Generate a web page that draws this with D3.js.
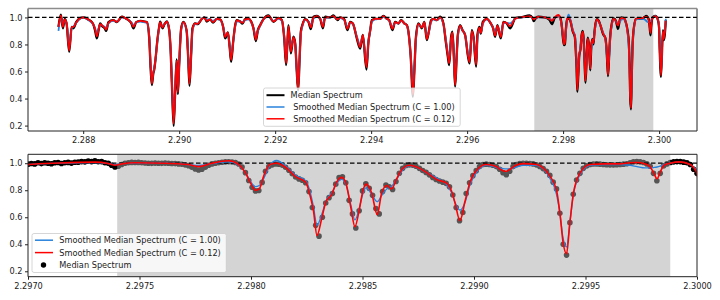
<!DOCTYPE html>
<html>
<head>
<meta charset="utf-8">
<script src="https://cdn.jsdelivr.net/npm/d3@7"></script>
<style>
  body { margin: 0; background: #fff; }
</style>
</head>
<body>
<script>
// ---- data ----
// full spectrum (top panel), wavelength in micron
const specWave = [
  2.287485,2.287535,2.287577,2.287615,2.287656,2.287708,2.287760,2.287798,2.287854,2.287937,
  2.288006,2.288104,2.288202,2.288250,2.288285,2.288323,2.288354,2.288396,2.288448,2.288479,
  2.288527,2.288625,2.288702,2.288806,2.288875,2.288944,2.289000,2.289048,2.289104,2.289188,
  2.289256,2.289327,2.289375,2.289406,2.289431,2.289458,2.289483,2.289510,2.289542,2.289583,
  2.289604,2.289652,2.289694,2.289744,2.289792,2.289823,2.289854,2.289885,2.289917,2.289948,
  2.289973,2.290000,2.290042,2.290090,2.290156,2.290188,2.290215,2.290246,2.290277,2.290333,
  2.290385,2.290473,2.290527,2.290573,2.290646,2.290708,2.290785,2.290854,2.290917,2.290958,
  2.291015,2.291052,2.291083,2.291125,2.291167,2.291202,2.291271,2.291319,2.291375,2.291444,
  2.291500,2.291548,2.291598,2.291640,2.291688,2.291756,2.291860,2.291965,2.292069,2.292140,
  2.292188,2.292229,2.292254,2.292277,2.292327,2.292381,2.292417,2.292448,2.292479,2.292510,
  2.292535,2.292573,2.292625,2.292694,2.292744,2.292798,2.292869,2.292938,2.292994,2.293042,
  2.293146,2.293215,2.293298,2.293354,2.293438,2.293506,2.293563,2.293619,2.293702,2.293771,
  2.293827,2.293902,2.293944,2.293979,2.294015,2.294083,2.294188,2.294256,2.294327,2.294375,
  2.294444,2.294500,2.294569,2.294625,2.294694,2.294744,2.294777,2.294823,2.294871,2.294906,
  2.294931,2.294985,2.295056,2.295110,2.295160,2.295194,2.295250,2.295298,2.295369,2.295438,
  2.295506,2.295556,2.295598,2.295625,2.295667,2.295694,2.295725,2.295750,2.295781,2.295806,
  2.295854,2.295902,2.295958,2.296015,2.296052,2.296098,2.296135,2.296188,2.296215,2.296256,
  2.296285,2.296327,2.296410,2.296494,2.296542,2.296583,2.296631,2.296702,2.296756,2.296827,
  2.296896,2.296965,2.297000,2.297143,2.297300,2.297359,2.297390,2.297422,2.297480,2.297614,
  2.297717,2.297765,2.297825,2.297900,2.297945,2.297975,2.297996,2.298020,2.298037,2.298058,
  2.298085,2.298115,2.298155,2.298200,2.298245,2.298268,2.298280,2.298296,2.298317,2.298336,
  2.298362,2.298384,2.298407,2.298426,2.298448,2.298466,2.298486,2.298501,2.298516,2.298541,
  2.298566,2.298586,2.298609,2.298631,2.298653,2.298680,2.298709,2.298743,2.298788,2.298833,
  2.298878,2.298900,2.298915,2.298937,2.298960,2.298982,2.299019,2.299054,2.299099,2.299130,
  2.299145,2.299161,2.299188,2.299220,2.299280,2.299309,2.299340,2.299370,2.299386,2.299399,
  2.299415,2.299430,2.299445,2.299475,2.299520,2.299587,2.299655,2.299700,2.299731,2.299767,
  2.299789,2.299805,2.299821,2.299834,2.299852,2.299879,2.299924,2.299969,2.300000,2.300010,
  2.300040,2.300080,2.300100,2.300140
];
const specMedian = [
  0.93,1.02,0.92,0.99,0.95,0.746,0.93,0.92,0.965,0.995,
  1.0,0.985,0.955,0.90,0.845,0.91,0.955,0.935,0.92,0.90,
  0.965,0.98,0.965,1.005,0.995,0.98,0.96,0.92,0.965,0.975,
  0.97,0.965,0.85,0.62,0.50,0.58,0.62,0.70,0.82,0.93,
  0.968,0.92,0.95,0.97,0.906,0.75,0.45,0.198,0.45,0.69,
  0.434,0.65,0.92,0.967,0.90,0.70,0.495,0.70,0.92,0.955,
  0.95,0.99,1.0,0.97,0.985,0.962,0.99,0.985,0.93,0.845,
  0.89,0.78,0.672,0.82,0.943,0.98,0.97,0.955,0.987,0.99,
  0.97,0.92,0.825,0.906,0.943,0.987,1.015,0.968,0.997,0.98,
  0.85,0.648,0.80,0.943,0.734,0.857,0.81,0.62,0.46,0.70,
  0.895,0.95,0.987,0.967,0.913,1.005,1.012,0.99,0.92,1.005,
  1.0,1.015,0.98,1.0,0.987,0.906,0.967,0.955,0.845,0.77,
  0.87,0.615,0.82,0.90,0.98,0.99,0.99,1.012,0.99,0.98,
  0.906,0.967,0.955,0.98,0.955,0.943,0.894,0.72,0.414,0.65,
  0.845,0.955,0.92,0.967,0.832,0.88,0.98,0.99,0.98,1.005,
  0.955,0.82,0.71,0.648,0.857,0.894,0.70,0.488,0.70,0.87,
  0.943,0.906,0.87,0.72,0.66,0.906,0.85,0.636,0.87,0.93,
  0.88,0.967,0.99,0.955,0.92,0.857,0.943,0.845,0.967,0.955,
  0.92,0.967,0.995,1.003,1.015,0.998,0.972,0.99,1.005,1.0,
  0.982,0.95,0.995,1.011,0.994,0.93,0.85,0.795,0.80,0.913,
  0.985,0.995,0.97,0.898,0.855,0.727,0.64,0.45,0.58,0.715,
  0.765,0.863,0.90,0.85,0.665,0.517,0.653,0.80,0.85,0.782,
  0.609,0.777,0.84,0.80,0.89,0.963,0.988,0.975,0.93,0.876,
  0.85,0.79,0.703,0.566,0.727,0.863,0.963,0.993,0.975,0.93,
  0.915,0.94,0.99,1.0,0.988,0.96,0.91,0.81,0.63,0.40,
  0.32,0.56,0.77,0.925,0.99,0.99,0.991,1.004,1.012,1.0,
  0.978,0.925,0.868,0.925,0.985,1.005,1.012,0.99,0.925,0.80,
  0.56,0.906,0.832,0.98
];
// smoothed, C = 0.12 (red)
const specSmoothC012 = [
  0.93,1.015,0.93,0.985,0.955,0.755,0.93,0.93,0.962,0.995,
  1.0,0.985,0.955,0.91,0.86,0.915,0.95,0.94,0.925,0.91,
  0.96,0.98,0.968,1.005,0.995,0.98,0.96,0.93,0.965,0.975,
  0.97,0.965,0.86,0.63,0.51,0.585,0.625,0.70,0.82,0.93,
  0.965,0.925,0.95,0.968,0.91,0.75,0.46,0.215,0.46,0.68,
  0.445,0.65,0.92,0.965,0.90,0.70,0.51,0.70,0.915,0.955,
  0.952,0.99,1.0,0.975,0.985,0.965,0.99,0.985,0.93,0.855,
  0.89,0.785,0.685,0.82,0.94,0.978,0.97,0.96,0.985,0.99,
  0.97,0.92,0.835,0.905,0.942,0.985,1.012,0.97,0.995,0.98,
  0.86,0.66,0.80,0.935,0.745,0.855,0.81,0.62,0.47,0.70,
  0.89,0.95,0.985,0.967,0.925,1.0,1.01,0.99,0.93,1.0,
  1.0,1.01,0.985,1.0,0.985,0.915,0.965,0.955,0.85,0.78,
  0.87,0.63,0.82,0.90,0.975,0.99,0.99,1.01,0.99,0.98,
  0.915,0.965,0.955,0.978,0.955,0.943,0.894,0.72,0.43,0.65,
  0.84,0.953,0.925,0.965,0.84,0.88,0.975,0.99,0.98,1.0,
  0.955,0.825,0.72,0.66,0.85,0.89,0.70,0.50,0.70,0.865,
  0.94,0.906,0.87,0.725,0.67,0.90,0.85,0.65,0.86,0.925,
  0.885,0.96,0.99,0.955,0.92,0.865,0.94,0.855,0.965,0.958,
  0.935,0.97,0.99,1.002,1.008,0.998,0.985,0.995,1.003,1.0,
  0.99,0.975,1.0,1.018,0.99,0.93,0.86,0.80,0.81,0.91,
  0.99,1.0,0.97,0.90,0.86,0.74,0.65,0.465,0.59,0.715,
  0.77,0.86,0.895,0.85,0.67,0.53,0.66,0.79,0.845,0.78,
  0.62,0.78,0.835,0.81,0.885,0.96,0.985,0.972,0.93,0.88,
  0.85,0.79,0.705,0.575,0.72,0.86,0.96,0.99,0.975,0.945,
  0.94,0.955,0.985,0.997,0.99,0.965,0.905,0.80,0.62,0.42,
  0.33,0.56,0.77,0.925,0.99,0.995,0.995,1.003,1.005,0.995,
  0.975,0.93,0.885,0.93,0.985,1.0,1.01,0.99,0.925,0.80,
  0.57,0.90,0.84,0.975
];
// smoothed, C = 1.00 (blue)
const specSmoothC1 = [
  0.90,1.00,0.95,0.98,0.955,0.78,0.92,0.935,0.96,0.99,
  1.0,0.98,0.95,0.92,0.88,0.92,0.945,0.94,0.93,0.925,
  0.955,0.975,0.97,1.0,0.995,0.98,0.965,0.945,0.962,0.97,
  0.965,0.96,0.87,0.65,0.54,0.59,0.63,0.70,0.81,0.92,
  0.955,0.935,0.95,0.965,0.915,0.76,0.48,0.26,0.47,0.66,
  0.48,0.66,0.91,0.96,0.90,0.72,0.55,0.71,0.90,0.95,
  0.955,0.99,1.0,0.985,0.985,0.975,0.99,0.98,0.93,0.87,
  0.88,0.79,0.71,0.82,0.93,0.97,0.97,0.965,0.98,0.985,
  0.965,0.92,0.86,0.90,0.94,0.985,1.005,0.975,0.99,0.975,
  0.87,0.69,0.80,0.90,0.77,0.84,0.80,0.63,0.50,0.70,
  0.87,0.94,0.98,0.97,0.945,0.99,1.005,0.99,0.95,0.995,
  1.0,1.005,0.99,0.995,0.98,0.93,0.96,0.95,0.86,0.80,
  0.86,0.66,0.82,0.90,0.965,0.985,0.99,1.005,0.99,0.975,
  0.93,0.96,0.955,0.975,0.955,0.94,0.89,0.73,0.47,0.65,
  0.82,0.945,0.93,0.955,0.86,0.88,0.965,0.985,0.98,0.995,
  0.95,0.84,0.74,0.69,0.83,0.87,0.71,0.54,0.70,0.85,
  0.93,0.905,0.87,0.74,0.69,0.88,0.84,0.68,0.84,0.91,
  0.89,0.95,0.985,0.955,0.925,0.88,0.93,0.875,0.955,0.96,
  0.955,0.975,0.99,1.0,1.005,0.998,0.99,0.997,1.0,1.0,
  0.99,0.983,0.997,1.01,0.985,0.93,0.87,0.826,0.835,0.89,
  0.985,1.02,0.98,0.91,0.87,0.77,0.68,0.54,0.62,0.72,
  0.78,0.85,0.88,0.84,0.69,0.58,0.67,0.77,0.82,0.77,
  0.715,0.76,0.81,0.83,0.88,0.95,0.98,0.97,0.93,0.89,
  0.84,0.78,0.71,0.653,0.71,0.84,0.95,0.985,0.97,0.96,
  0.958,0.96,0.97,0.985,0.985,0.96,0.89,0.77,0.62,0.45,
  0.38,0.56,0.76,0.915,0.985,0.99,0.99,0.985,0.975,0.965,
  0.965,0.968,0.972,0.978,0.99,1.0,1.01,0.99,0.945,0.82,
  0.60,0.89,0.86,0.99
];

// zoomed median spectrum pixels (bottom panel), sampled every zoomStep from zoomStart
const zoomStart = 2.2970;
const zoomStep = 0.000015;
const zoomFlux = [
  0.993,0.998,0.995,1.004,0.997,1.003,1.000,0.996,1.003,1.005,
  0.998,1.004,1.006,1.001,1.007,1.008,1.012,1.010,1.016,1.012,
  1.017,1.011,1.012,1.004,0.999,0.985,0.972,0.978,0.990,1.000,
  1.004,1.006,1.005,1.006,1.004,1.002,1.000,0.999,1.001,1.000,
  0.999,1.001,1.000,0.998,0.997,0.995,0.992,0.988,0.982,0.970,
  0.957,0.950,0.956,0.970,0.985,0.995,1.000,1.004,1.007,1.010,
  1.011,1.009,1.005,0.994,0.972,0.930,0.872,0.822,0.795,0.798,
  0.858,0.940,0.975,0.988,0.994,0.993,0.986,0.970,0.948,0.922,
  0.898,0.884,0.874,0.855,0.790,0.672,0.540,0.460,0.600,0.705,
  0.745,0.775,0.845,0.893,0.900,0.855,0.725,0.625,0.520,0.648,
  0.795,0.848,0.815,0.762,0.665,0.625,0.790,0.838,0.826,0.805,
  0.865,0.926,0.962,0.984,0.988,0.986,0.977,0.962,0.946,0.932,
  0.914,0.895,0.879,0.868,0.860,0.851,0.825,0.765,0.672,0.575,
  0.635,0.775,0.855,0.908,0.945,0.975,0.990,0.993,0.990,0.985,
  0.975,0.955,0.930,0.915,0.940,0.975,0.990,0.997,1.000,0.999,
  0.997,0.995,0.988,0.976,0.960,0.940,0.910,0.860,0.810,0.630,
  0.400,0.320,0.560,0.770,0.875,0.925,0.962,0.980,0.990,0.994,
  0.995,0.993,0.991,0.989,0.988,0.987,0.989,0.991,0.993,0.996,
  1.004,1.010,1.012,1.010,1.005,0.995,0.978,0.925,0.870,0.925,
  0.980,0.995,1.005,1.010,1.012,1.012,1.008,1.004,0.990,0.955,
  0.925
];

// highlighted wavelength window
const spanRange = [2.29740, 2.29988];

const topTicks = [2.288, 2.290, 2.292, 2.294, 2.296, 2.298, 2.300];
const bottomTicks = [2.2970, 2.2975, 2.2980, 2.2985, 2.2990, 2.2995, 2.3000];
const yTicks = [0.2, 0.4, 0.6, 0.8, 1.0];

const topLabels = ["Median Spectrum", " Smoothed Median Spectrum (C = 1.00)", " Smoothed Median Spectrum (C = 0.12)"];
const bottomLabels = ["Smoothed Median Spectrum (C = 1.00)", "Smoothed Median Spectrum (C = 0.12)", "Median Spectrum"];

// ---- drawing ----
const font = "'DejaVu Sans', sans-serif";
const fontSize = 8.2;
const blue = "#2882dc";
const red = "#ff0000";

const spec = specWave.map((w, i) => ({
  w: w, med: specMedian[i], c1: specSmoothC1[i], c012: specSmoothC012[i]
}));
const zoomPts = zoomFlux.map((f, i) => ({ w: zoomStart + i * zoomStep, f: f }));

const svg = d3.select("body").append("svg")
  .attr("width", 720)
  .attr("height", 300)
  .style("font-family", font);

const defs = svg.append("defs");

const xA = d3.scaleLinear().domain([2.28685, 2.30079]).range([28, 697]);
const yA = d3.scaleLinear().domain([0.16, 1.066]).range([131, 8.5]);
const xB = d3.scaleLinear().domain([2.2970, 2.3000]).range([28, 697]);
const yB = d3.scaleLinear().domain([0.16, 1.066]).range([276.7, 154.3]);

function clip(id, x, y) {
  defs.append("clipPath").attr("id", id)
    .append("rect")
    .attr("x", x.range()[0]).attr("y", y.range()[1])
    .attr("width", x.range()[1] - x.range()[0])
    .attr("height", y.range()[0] - y.range()[1]);
}
clip("clipA", xA, yA);
clip("clipB", xB, yB);

function lineGen(x, y, key) {
  return d3.line()
    .x(d => x(d.w))
    .y(d => y(d[key]))
    .curve(d3.curveMonotoneX);
}

function axes(x, y, ticks, fmt) {
  const gx = svg.append("g")
    .attr("transform", `translate(0,${y.range()[0]})`)
    .call(d3.axisBottom(x).tickValues(ticks).tickFormat(d3.format(fmt)).tickSize(3).tickPadding(3));
  gx.select(".domain").remove();
  const gy = svg.append("g")
    .attr("transform", `translate(${x.range()[0]},0)`)
    .call(d3.axisLeft(y).tickValues(yTicks).tickFormat(d3.format(".1f")).tickSize(3).tickPadding(2.5));
  gy.select(".domain").remove();
  [gx, gy].forEach(g => g
    .attr("font-family", font)
    .attr("font-size", fontSize)
    .attr("color", "#222"));
}

function spines(x, y, topColor, topWidth) {
  const [l, r] = x.range();
  const [b, t] = y.range();
  const g = svg.append("g").attr("fill", "none");
  g.append("line").attr("x1", l).attr("x2", l).attr("y1", t).attr("y2", b).attr("stroke", "#222");
  g.append("line").attr("x1", r).attr("x2", r).attr("y1", t).attr("y2", b).attr("stroke", "#222");
  g.append("line").attr("x1", l).attr("x2", r).attr("y1", b).attr("y2", b).attr("stroke", "#222");
  g.append("line").attr("x1", l).attr("x2", r).attr("y1", t).attr("y2", t)
    .attr("stroke", topColor).attr("stroke-width", topWidth);
}

function dashed(x, y) {
  svg.append("line")
    .attr("x1", x.range()[0]).attr("x2", x.range()[1])
    .attr("y1", y(1.0)).attr("y2", y(1.0))
    .attr("stroke", "#000")
    .attr("stroke-width", 1.2)
    .attr("stroke-dasharray", "4.5,2.5");
}

function legend(x0, y0, rowYs, labels, handles, textX) {
  const g = svg.append("g");
  const box = g.append("rect")
    .attr("x", x0).attr("y", y0)
    .attr("rx", 2)
    .attr("fill", "#fff").attr("fill-opacity", 0.8)
    .attr("stroke", "#cccccc").attr("stroke-width", 0.8);
  let maxW = 0;
  labels.forEach((lab, i) => {
    const h = handles[i];
    if (h.type === "line") {
      g.append("line")
        .attr("x1", x0 + 3).attr("x2", x0 + 21)
        .attr("y1", rowYs[i]).attr("y2", rowYs[i])
        .attr("stroke", h.color).attr("stroke-width", h.width);
    } else {
      g.append("circle")
        .attr("cx", x0 + 11.5).attr("cy", rowYs[i])
        .attr("r", 2.7).attr("fill", h.color);
    }
    const t = g.append("text")
      .attr("x", textX).attr("y", rowYs[i])
      .attr("dy", "0.36em")
      .attr("font-size", fontSize)
      .attr("fill", "#222")
      .attr("xml:space", "preserve")
      .style("white-space", "pre")
      .text(lab);
    maxW = Math.max(maxW, t.node().getComputedTextLength() + (textX - x0));
  });
  box.attr("width", maxW + 5.5)
    .attr("height", rowYs[rowYs.length - 1] - y0 + 7.5);
}

// ---------- top panel ----------
svg.append("rect")
  .attr("x", xA(spanRange[0])).attr("y", yA.range()[1])
  .attr("width", xA(spanRange[1]) - xA(spanRange[0]))
  .attr("height", yA.range()[0] - yA.range()[1])
  .attr("fill", "#d3d3d3");

const gA = svg.append("g").attr("clip-path", "url(#clipA)");
gA.append("path").datum(spec).attr("d", lineGen(xA, yA, "med"))
  .attr("fill", "none").attr("stroke", "#000").attr("stroke-width", 2.3).attr("stroke-linejoin", "round");
gA.append("path").datum(spec).attr("d", lineGen(xA, yA, "c1"))
  .attr("fill", "none").attr("stroke", blue).attr("stroke-width", 1.8).attr("stroke-linejoin", "round");
gA.append("path").datum(spec).attr("d", lineGen(xA, yA, "c012"))
  .attr("fill", "none").attr("stroke", red).attr("stroke-width", 1.8).attr("stroke-linejoin", "round");

dashed(xA, yA);
spines(xA, yA, "#8c8c8c", 1.6);
axes(xA, yA, topTicks, ".3f");
legend(263.5, 88, [95.2, 107, 118.8], topLabels,
  [{ type: "line", color: "#000", width: 2 },
   { type: "line", color: blue, width: 1.5 },
   { type: "line", color: red, width: 1.5 }], 290.6);

// ---------- bottom panel ----------
const gB = svg.append("g").attr("clip-path", "url(#clipB)");
gB.selectAll("circle").data(zoomPts).enter().append("circle")
  .attr("cx", d => xB(d.w))
  .attr("cy", d => yB(d.f))
  .attr("r", 2.8)
  .attr("fill", "#000");
gB.append("rect")
  .attr("x", xB(spanRange[0])).attr("y", yB.range()[1])
  .attr("width", xB(spanRange[1]) - xB(spanRange[0]))
  .attr("height", yB.range()[0] - yB.range()[1])
  .attr("fill", "rgb(170,170,170)").attr("fill-opacity", 0.5);

const gB2 = svg.append("g").attr("clip-path", "url(#clipB)");
gB2.append("line")
  .attr("x1", xB.range()[0]).attr("x2", xB.range()[1])
  .attr("y1", yB(1.0)).attr("y2", yB(1.0))
  .attr("stroke", "#000").attr("stroke-width", 1.2).attr("stroke-dasharray", "4.5,2.5");
gB2.append("path").datum(spec).attr("d", lineGen(xB, yB, "c1"))
  .attr("fill", "none").attr("stroke", blue).attr("stroke-width", 1.3);
gB2.append("path").datum(spec).attr("d", lineGen(xB, yB, "c012"))
  .attr("fill", "none").attr("stroke", red).attr("stroke-width", 1.6);

spines(xB, yB, "#222", 1);
axes(xB, yB, bottomTicks, ".4f");
legend(32, 233.5, [240.2, 252.6, 265], bottomLabels,
  [{ type: "line", color: blue, width: 1.5 },
   { type: "line", color: red, width: 1.5 },
   { type: "dot", color: "#000" }], 59.3);
</script>
</body>
</html>
